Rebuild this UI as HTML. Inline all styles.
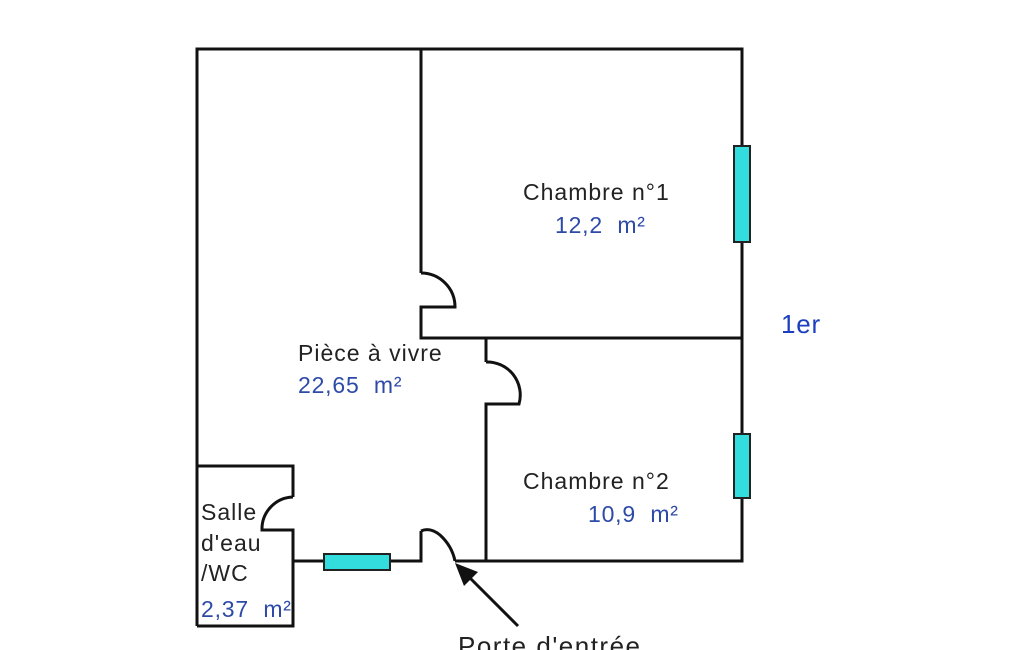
<!DOCTYPE html>
<html><head><style>body{margin:0;background:#fff}svg{display:block}text{white-space:pre}</style></head><body>
<svg width="1025" height="650" viewBox="0 0 1025 650" xmlns="http://www.w3.org/2000/svg" font-family="Liberation Sans, Arial, sans-serif">
<g fill="none" stroke="#111" stroke-width="3" stroke-linejoin="miter">
<polyline points="197,626 197,49 742,49 742,561 455,561"/>
<polyline points="421,49 421,273"/>
<path d="M421,273 A34,34 0 0 1 455,307 L421,307 L421,338 L742,338"/>
<polyline points="486,338 486,362"/>
<path d="M486,362 A33,33 0 0 1 519,404 L486,404 L486,561"/>
<polyline points="197,466 293,466 293,497"/>
<path d="M293,497 A32,32 0 0 0 262,530 L293,530 L293,626 L197,626"/>
<polyline points="293,561 421,561 421,531"/>
<path d="M421,531 Q430,527 440,535 Q452,546 455,561"/>
</g>
<g fill="#33dddd" stroke="#222" stroke-width="2">
<rect x="734" y="146" width="16" height="96"/>
<rect x="734" y="434" width="16" height="64"/>
<rect x="324" y="554" width="66" height="16"/>
</g>
<line x1="518" y1="626" x2="468" y2="576" stroke="#111" stroke-width="3"/>
<polygon points="455,563 478,572 464,586" fill="#111"/>
<g font-size="23" fill="#222" letter-spacing="1">
<text x="523" y="200">Chambre n°1</text>
<text x="298" y="361">Pièce à vivre</text>
<text x="523" y="489">Chambre n°2</text>
<text x="201" y="520">Salle</text>
<text x="201" y="551">d'eau</text>
<text x="201" y="581">/WC</text>
<text x="458" y="655" font-size="26" letter-spacing="1.5">Porte d'entrée</text>
</g>
<g font-size="23" fill="#2e4aa8" letter-spacing="0.8">
<text x="555" y="233">12,2  m²</text>
<text x="298" y="393">22,65  m²</text>
<text x="588" y="522">10,9  m²</text>
<text x="201" y="617">2,37  m²</text>
<text x="781" y="333" font-size="26" fill="#1c3fbf">1er</text>
</g>
</svg>
</body></html>
